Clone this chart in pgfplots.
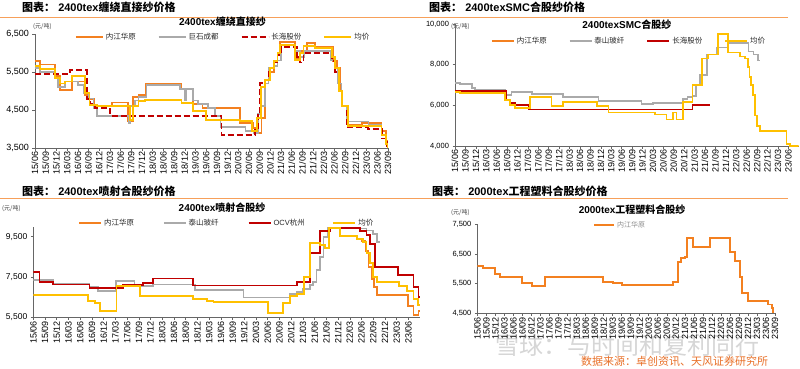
\documentclass[border=0pt]{standalone}
\usepackage{fontspec}
\setmainfont{Liberation Sans}
\newfontfamily\cjk{Noto Sans CJK SC}
\usepackage{pgfplots}
\pgfplotsset{compat=1.18}
\definecolor{cOr}{RGB}{243,128,32}
\definecolor{cGy}{RGB}{170,170,170}
\definecolor{cRd}{RGB}{192,0,0}
\definecolor{cYl}{RGB}{255,192,0}
\definecolor{cHd}{RGB}{247,160,90}
\definecolor{cSrc}{RGB}{232,112,40}
\pgfplotsset{
  orL/.style={const plot, color=cOr, line width=1.8pt},
  gyL/.style={const plot, color=cGy, line width=1.7pt},
  rdL/.style={const plot, color=cRd, line width=1.8pt},
  rdD/.style={const plot, color=cRd, line width=1.9pt, dash pattern=on 6pt off 3pt},
  ylL/.style={const plot, color=cYl, line width=1.8pt},
  panel/.style={
    scale only axis, anchor=south west,
    axis x line*=bottom, axis y line*=left,
    axis line style={black!60, line width=0.6pt},
    tick align=outside, major tick length=2.5pt,
    tick style={black!60, line width=0.5pt},
    xmin=0, xmax=99,
    scaled y ticks=false,
    xticklabels={15/06,15/09,15/12,16/03,16/06,16/09,16/12,17/03,17/06,17/09,17/12,18/03,18/06,18/09,18/12,19/03,19/06,19/09,19/12,20/03,20/06,20/09,20/12,21/03,21/06,21/09,21/12,22/03,22/06,22/09,22/12,23/03,23/06,23/09},
    x tick label style={rotate=90, anchor=east, font=\fontsize{9}{10}\selectfont, inner sep=1pt},
    /pgf/number format/1000 sep={,},
    /pgf/number format/assume math mode=true,
    legend columns=4,
    legend cell align=left,
    legend style={draw=none, fill=none, inner sep=0pt, anchor=north west, font=\fontsize{7.5}{9}\selectfont, text=black!85, /tikz/every even column/.append style={column sep=0pt}},
    title style={font=\bfseries\fontsize{10}{12}\selectfont, anchor=center},
  },
}
\begin{document}
\begin{tikzpicture}
\useasboundingbox (0pt,0pt) rectangle (800pt,368pt);
% header lines and headers
\draw[cHd, line width=1pt] (0pt,350.7pt) -- (788pt,350.7pt);
\draw[cHd, line width=1pt] (0pt,169.7pt) -- (788pt,169.7pt);
\node[anchor=west, font=\bfseries\fontsize{11}{13}\selectfont, inner sep=0pt] at (22pt,360.5pt) {{\cjk 图表：} 2400tex{\cjk 缠绕直接纱价格}};
\node[anchor=west, font=\bfseries\fontsize{11}{13}\selectfont, inner sep=0pt] at (429pt,360.5pt) {{\cjk 图表：} 2400texSMC{\cjk 合股纱价格}};
\node[anchor=west, font=\bfseries\fontsize{11}{13}\selectfont, inner sep=0pt] at (22pt,176.3pt) {{\cjk 图表：} 2400tex{\cjk 喷射合股纱价格}};
\node[anchor=west, font=\bfseries\fontsize{11}{13}\selectfont, inner sep=0pt] at (432pt,176.3pt) {{\cjk 图表：} 2000tex{\cjk 工程塑料合股纱价格}};
% unit labels
\node[anchor=west, font=\cjk\fontsize{6}{7}\selectfont, inner sep=0pt, text=black!75] at (33pt,341pt) {(元/吨)};
\node[anchor=west, font=\cjk\fontsize{6}{7}\selectfont, inner sep=0pt, text=black!75] at (451pt,341pt) {(元/吨)};
\node[anchor=west, font=\cjk\fontsize{6}{7}\selectfont, inner sep=0pt, text=black!75] at (2pt,159pt) {(元/吨)};
\node[anchor=west, font=\cjk\fontsize{6}{7}\selectfont, inner sep=0pt, text=black!75] at (451pt,155pt) {(元/吨)};
% watermark and source
\node[anchor=west, font=\cjk\fontsize{24}{26}\selectfont, text=black!16, inner sep=0pt] at (495pt,23pt) {雪球：与时间和复利同行};
\node[anchor=west, font=\cjk\fontsize{11}{12}\selectfont, text=cSrc, inner sep=0pt] at (581pt,6.3pt) {数据来源：卓创资讯、天风证券研究所};

% ---------- Panel 1 ----------
\begin{axis}[panel, at={(35pt,220pt)}, width=353pt, height=114pt,
  ymin=3500, ymax=6500, ytick={3500,4500,5500,6500}, xtick={0,3,...,99},
  y tick label style={font=\fontsize{9}{10}\selectfont},
  title={2400tex{\cjk 缠绕直接纱}}, title style={at={(0.531,1)}, yshift=6pt},
  legend style={at={(0.113,1.026)}},
  legend image code/.code={\draw[#1] (0pt,0pt) -- (27pt,0pt);}]
\addplot[orL] coordinates {(0,5800) (1.5,5700) (5.6,5400) (7.0,5020) (10.3,5250) (14.0,4900) (15.0,4780) (16.5,4600) (21.5,4700) (26.0,4200) (27.5,4850) (29.0,4900) (31.0,5200) (41.0,5050) (44.4,4650) (47.0,4550) (57.5,4150) (61.2,4020) (62.5,3900) (63.5,4300) (64.5,5300) (66.0,5500) (67.0,5800) (68.0,6000) (68.8,6300) (72.9,5850) (74.3,6050) (76.2,6270) (78.5,6170) (83.5,5800) (84.6,5600) (85.5,5000) (86.2,4600) (87.4,4120) (91.6,4160) (97.2,3950) (98.5,3700) (99,3500)};
\addlegendentry{\makebox[50pt][l]{\cjk 内江华原}}
\addplot[gyL] coordinates {(0,5600) (1.4,5500) (5.6,5350) (6.5,5100) (8.5,5250) (12.0,5150) (13.6,4950) (15.0,4800) (16.4,4550) (17.4,4350) (26.2,4150) (26.6,4600) (28.0,4750) (29.0,4850) (31.3,5150) (40.7,5050) (42.0,4750) (42.5,5050) (44.4,4750) (45.8,4650) (48.6,4550) (50.5,4350) (52.0,4050) (59.0,3950) (61.5,3900) (62.5,4400) (63.5,4600) (64.5,5200) (65.5,5600) (67.0,5650) (68.0,5800) (69.0,6200) (72.9,6050) (74.3,5900) (75.5,6050) (83.0,5800) (84.0,5600) (85.0,5200) (86.0,4600) (87.4,4200) (93.5,4100) (97.2,3850) (98.5,3600) (99,3600)};
\addlegendentry{\makebox[50pt][l]{\cjk 巨石成都}}
\addplot[rdD] coordinates {(0,5450) (9.8,5550) (14.5,4800) (15.5,4650) (16.8,4550) (21.0,4350) (52.3,3850) (61.7,4000) (62.5,4400) (63.2,5200) (64.5,5300) (65.5,5600) (67,5750) (68,5950) (69,6150) (73.5,5900) (74.3,5750) (75.3,6000) (83.2,5800) (84.2,5500) (85.2,5000) (86.2,4600) (87.4,4050) (93.5,4000) (97.2,3750) (98.8,3500) (99,3500)};
\addlegendentry{\makebox[50pt][l]{\cjk 长海股份}}
\addplot[ylL] coordinates {(0,5650) (1.4,5580) (5.6,5350) (7.0,5200) (8.5,5250) (10.3,5386) (14.0,4950) (15.3,4640) (17.3,4597) (26.6,4245) (27.5,4600) (29.0,4730) (30.9,4772) (41.1,4685) (44.4,4465) (48.0,4245) (57.5,4202) (60.8,3940) (62.2,4300) (63.3,5100) (64.5,5300) (66.0,5600) (67.0,5800) (68.0,6000) (68.8,6219) (72.9,5824) (74.3,6000) (75.3,6175) (78.5,6131) (83.2,5900) (84.2,5600) (85.2,5000) (86.2,4600) (87.7,4070) (97.2,3850) (98.5,3600) (99,3500)};
\addlegendentry{\makebox[50pt][l]{\cjk 均价}}
\end{axis}

% ---------- Panel 2 ----------
\begin{axis}[panel, at={(455pt,222pt)}, width=343.7pt, height=122pt,
  ymin=4000, ymax=10000, ytick={4000,6000,8000,10000}, xtick={0,3,...,96},
  y tick label style={font=\fontsize{7.5}{9}\selectfont},
  title={2400texSMC{\cjk 合股纱}}, title style={at={(0.5,1)}, yshift=-7pt},
  legend style={at={(0.104,0.91)}},
  legend image code/.code={\draw[#1] (0pt,0pt) -- (22pt,0pt);}]
\addlegendimage{orL}
\addlegendentry{\makebox[50pt][l]{\cjk 内江华原}}
\addplot[gyL] coordinates {(0,7100) (1.4,7050) (4.8,6850) (5.8,6750) (14.4,6500) (16.3,6650) (22.1,6550) (31.2,6400) (41.3,6200) (53.7,6050) (57.1,6100) (65.7,6300) (67.0,6400) (68.4,6450) (69.5,7000) (70.5,7500) (72.5,8500) (75.3,8850) (78.7,9050) (84.5,8650) (86.0,8500) (87.2,8200) (87.8,8200)};
\addlegendentry{\makebox[50pt][l]{\cjk 泰山玻纤}}
\addplot[rdL] coordinates {(0,6700) (14.6,6250) (15.8,6100) (17.3,6000) (21.4,5800) (68.4,6000) (73.5,6000)};
\addlegendentry{\makebox[50pt][l]{\cjk 长海股份}}
\addplot[ylL] coordinates {(0,6650) (1.4,6600) (14.4,6250) (15.8,6000) (17.3,5850) (21.6,6400) (27.8,5950) (31.2,6150) (40.8,5950) (44.2,5650) (57.6,5550) (60.9,5300) (62.9,5650) (63.8,5300) (65.7,6150) (68.4,7000) (71.1,8300) (72.9,8500) (75.8,9500) (78.7,8600) (82.1,8400) (83.5,8300) (84.3,7900) (84.8,7400) (85.3,7000) (85.8,6500) (86.3,5500) (86.9,5000) (87.8,4750) (95.5,4100) (96.5,4000) (99,4000)};
\addlegendentry{\makebox[50pt][l]{\cjk 均价}}
\end{axis}

% ---------- Panel 3 ----------
\begin{axis}[panel, at={(33.3pt,50.7pt)}, width=386.8pt, height=90.7pt,
  ymin=5500, ymax=10000, ytick={5500,7500,9500}, xtick={0,3,...,96},
  y tick label style={font=\fontsize{8.5}{9}\selectfont},
  title={2400tex{\cjk 喷射合股纱}}, title style={at={(0.488,1)}, yshift=13.4pt},
  legend style={at={(0.1156,1.104)}},
  legend image code/.code={\draw[#1] (0pt,0pt) -- (22pt,0pt);}]
\addplot[orL] coordinates {(84.0,9300) (85.0,8800) (85.8,8000) (86.6,7400) (87.2,7000) (87.9,6620) (96.0,6080) (97.3,5630) (98.6,5800) (99,5800)};
\addlegendentry{\makebox[57pt][l]{\cjk 内江华原}}
\addplot[gyL] coordinates {(0,7350) (5.0,7180) (14.4,7020) (16.6,6820) (21.2,7300) (25.9,7050) (30.6,7130) (41.3,6850) (53.8,6480) (65.7,6640) (67.4,6750) (69.1,6920) (70.8,7090) (71.5,7250) (72.5,7830) (73.4,8490) (74.3,9480) (75.5,9950) (82.8,9900) (85.3,9800) (87.0,9650) (87.9,9250) (88.7,9250)};
\addlegendentry{\makebox[57pt][l]{\cjk 泰山玻纤}}
\addplot[rdL] coordinates {(0,7730) (1.6,7270) (5.0,7130) (14.4,6940) (23.0,7100) (28.1,7220) (30.6,7430) (40.9,7080) (67.4,7250) (70.8,8700) (73.4,9800) (76.0,9950) (83.6,9800) (85.3,9600) (86.2,9150) (87.5,8000) (93.4,7600) (97.3,7000) (98.6,6500) (99,6500)};
\addlegendentry{\makebox[57pt][l]{OCV{\cjk 杭州}}}
\addplot[ylL] coordinates {(0,6600) (14.1,6300) (15.8,6200) (17.1,5800) (21.3,7050) (27.3,6550) (40.9,6400) (44.5,6300) (46.1,6250) (60.1,5700) (64.0,6200) (65.7,6550) (67.4,6650) (69.2,7500) (70.8,9200) (73.4,9100) (74.6,8950) (75.6,9950) (78.5,9550) (82.8,9400) (84.3,9250) (85.3,8700) (86.2,8200) (87.0,7500) (87.9,7250) (93.6,7050) (95.6,6800) (97.3,6400) (98.5,6130) (99,6130)};
\addlegendentry{\makebox[57pt][l]{\cjk 均价}}
\end{axis}

% ---------- Panel 4 ----------
\begin{axis}[panel, at={(477.3pt,54.7pt)}, width=297.7pt, height=89pt,
  ymin=4500, ymax=7500, ytick={4500,5500,6500,7500}, xtick={0,3,...,99},
  y tick label style={font=\fontsize{7.5}{9}\selectfont},
  title={2000tex{\cjk 工程塑料合股纱}}, title style={at={(0.52,1)}, yshift=8.3pt},
  legend style={at={(0.389,1.06)}, text=black!45, font=\fontsize{7}{8}\selectfont},
  legend image code/.code={\draw[#1] (0pt,0pt) -- (20pt,0pt);}]
\addplot[orL] coordinates {(0,6100) (2.0,6016) (5.9,5813) (7.5,5713) (14.8,5511) (18.1,5421) (22.5,5713) (41.9,5567) (45.2,5511) (48.0,5455) (65.2,5567) (66.8,6241) (67.8,6353) (69.0,6410) (69.8,7049) (71.8,6746) (77.4,7049) (84.0,6560) (85.7,6270) (87.4,5735) (88.0,5174) (90.1,4915) (96.8,4800) (97.9,4667) (98.4,4500)};
\addlegendentry{\cjk 内江华原}
\end{axis}
\end{tikzpicture}
\end{document}
